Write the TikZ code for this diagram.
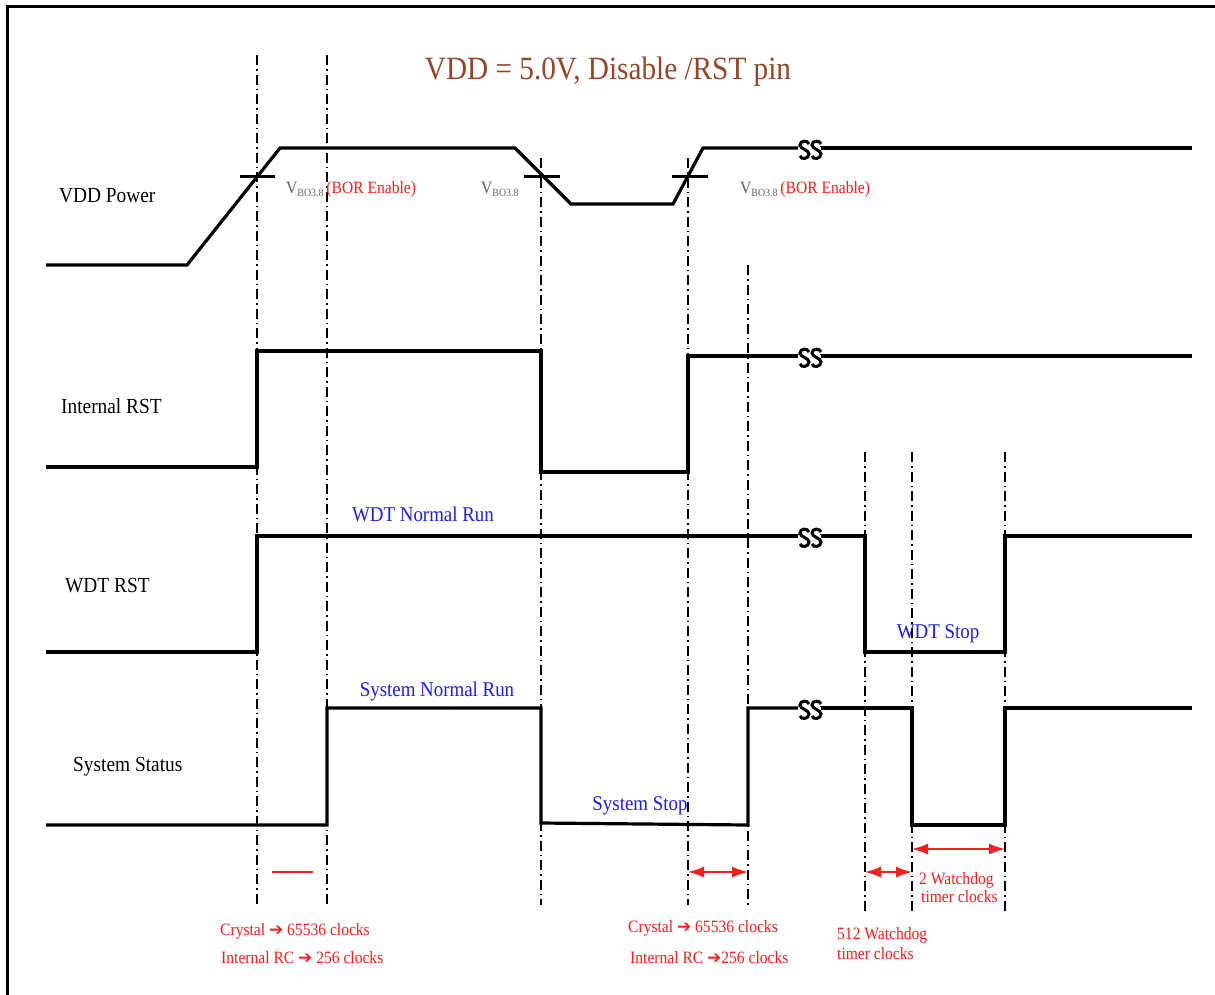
\documentclass[tikz,border=0pt]{standalone}
\usepackage{fontspec}
\setmainfont{Liberation Serif}[FakeStretch=0.9]
\newfontfamily\arrowfont{DejaVu Sans}
\usetikzlibrary{arrows.meta}
\definecolor{ttl}{RGB}{150,70,40}
\definecolor{rd}{RGB}{245,30,30}
\definecolor{bl}{RGB}{30,30,230}
\definecolor{gr}{RGB}{95,95,95}
\tikzset{
  sig/.style={line width=3.2pt, line join=miter},
  guide/.style={line width=1.1pt, dash pattern=on 10pt off 4pt on 1.5pt off 4pt},
  lbl/.style={anchor=base west, inner sep=0pt, font=\fontsize{21.5}{23}\selectfont},
  bluetxt/.style={anchor=base, inner sep=0pt, text=bl, font=\fontsize{21}{23}\selectfont},
  redtxt/.style={anchor=base west, inner sep=0pt, text=rd, font=\fontsize{17.3}{19}\selectfont},
  redarr/.style={rd, line width=1.6pt, {Latex[length=16pt,width=11pt]}-{Latex[length=16pt,width=11pt]}},
  tick/.style={line width=3pt},
  brk/.pic={
    \fill[white] (-10,-3) rectangle (13,3);
    \draw[line width=3pt] (1,-6) .. controls (0,-10) and (-8,-10) .. (-8,-5) .. controls (-8,-1) and (1,0) .. (1,4) .. controls (1,9) and (-7,10) .. (-8,6);
    \draw[line width=3pt] (13,-6) .. controls (12,-10) and (4,-10) .. (4,-5) .. controls (4,-1) and (13,0) .. (13,4) .. controls (13,9) and (5,10) .. (4,6);
  }
}
\newcommand{\vbo}{{\color{gr}V\raisebox{-3pt}{\fontsize{11}{12}\selectfont BO3.8}}}
\newcommand{\harr}{{\arrowfont\bfseries\fontsize{17}{19}\selectfont ➔}}
\begin{document}
\begin{tikzpicture}[x=1pt,y=-1pt]
\useasboundingbox (0,0) rectangle (1215,994);
\fill[white] (0,0) rectangle (1215,994);
% frame
\draw[line width=2.6pt] (7.5,1000) -- (7.5,6.5) -- (1220,6.5);

% title
\node[anchor=base, inner sep=0pt, text=ttl, font=\fontsize{32.5}{35}\selectfont] (title) at (608,79) {VDD = 5.0V, Disable /RST pin};

% guide lines
\draw[guide] (257,55) -- (257,905);
\draw[guide] (327,55) -- (327,905);
\draw[guide] (541,158) -- (541,905);
\draw[guide] (688,158) -- (688,905);
\draw[guide] (748,265) -- (748,905);
\draw[guide] (865,452) -- (865,913);
\draw[guide] (912,452) -- (912,913);
\draw[guide] (1005,452) -- (1005,913);

% signal labels
\node[lbl] (l1) at (59,202) {VDD Power};
\node[lbl] (l2) at (61,413) {Internal RST};
\node[lbl] (l3) at (65,592) {WDT RST};
\node[lbl] (l4) at (73,771) {System Status};

% VDD power
\draw[sig] (46,265) -- (187,265) -- (280,148) -- (515,148) -- (571,204) -- (673,204) -- (703,148) -- (800,148);
\draw[sig] (820,148) -- (1192,148);
\pic at (808,150) {brk};
\draw[tick] (240,176) -- (275,176);
\draw[tick] (524,176) -- (560,176);
\draw[tick] (672,176) -- (708,176);
\node[anchor=base west, inner sep=0pt, font=\fontsize{17.3}{19}\selectfont] (v1) at (286,193) {\vbo\,\textcolor{rd}{(BOR Enable)}};
\node[anchor=base west, inner sep=0pt, font=\fontsize{17.3}{19}\selectfont] (v2) at (481,193) {\vbo};
\node[anchor=base west, inner sep=0pt, font=\fontsize{17.3}{19}\selectfont] (v3) at (740,193) {\vbo\,\textcolor{rd}{(BOR Enable)}};

% Internal RST
\draw[sig] (46,467) -- (257,467) -- (257,351) -- (541,351) -- (541,472) -- (688,472) -- (688,356) -- (800,356);
\draw[sig] (820,356) -- (1192,356);
\pic at (808,358) {brk};

% WDT RST
\draw[sig] (46,652) -- (257,652) -- (257,536) -- (800,536);
\draw[sig] (820,536) -- (865,536) -- (865,652) -- (1005,652) -- (1005,536) -- (1192,536);
\pic at (808,538) {brk};
\node[bluetxt] (t1) at (423,521) {WDT Normal Run};
\node[bluetxt] (t2) at (938,638) {WDT Stop};

% System status
\draw[sig] (46,825) -- (327,825) -- (327,708) -- (541,708) -- (541,823) -- (748,825) -- (748,708) -- (800,708);
\draw[sig] (820,708) -- (912,708) -- (912,825) -- (1005,825) -- (1005,708) -- (1192,708);
\pic at (808,710) {brk};
\node[bluetxt] (t3) at (437,696) {System Normal Run};
\node[bluetxt] (t4) at (640,810) {System Stop};

% timing annotations
\coordinate (a1) at (272,872);
\coordinate (a2) at (313,872);
\draw[rd, line width=1.5pt] (a1) -- (a2);
\coordinate (b1) at (688,872);
\coordinate (b2) at (748,872);
\draw[redarr] (b1) -- (b2);
\coordinate (c1) at (865,872);
\coordinate (c2) at (912,872);
\draw[redarr] (c1) -- (c2);
\coordinate (d1) at (912,849);
\coordinate (d2) at (1005,849);
\draw[redarr] (d1) -- (d2);

\node[redtxt] (r1) at (220,935) {Crystal \harr\ 65536 clocks};
\node[redtxt] (r2) at (221,963) {Internal RC \harr\ 256 clocks};
\node[redtxt] (r3) at (628,932) {Crystal \harr\ 65536 clocks};
\node[redtxt] (r4) at (630,963) {Internal RC \harr256 clocks};
\node[redtxt] (r5) at (919,884) {2 Watchdog};
\node[redtxt] (r6) at (921,902) {timer clocks};
\node[redtxt] (r7) at (837,939) {512 Watchdog};
\node[redtxt] (r8) at (837,959) {timer clocks};
\end{tikzpicture}
\end{document}
